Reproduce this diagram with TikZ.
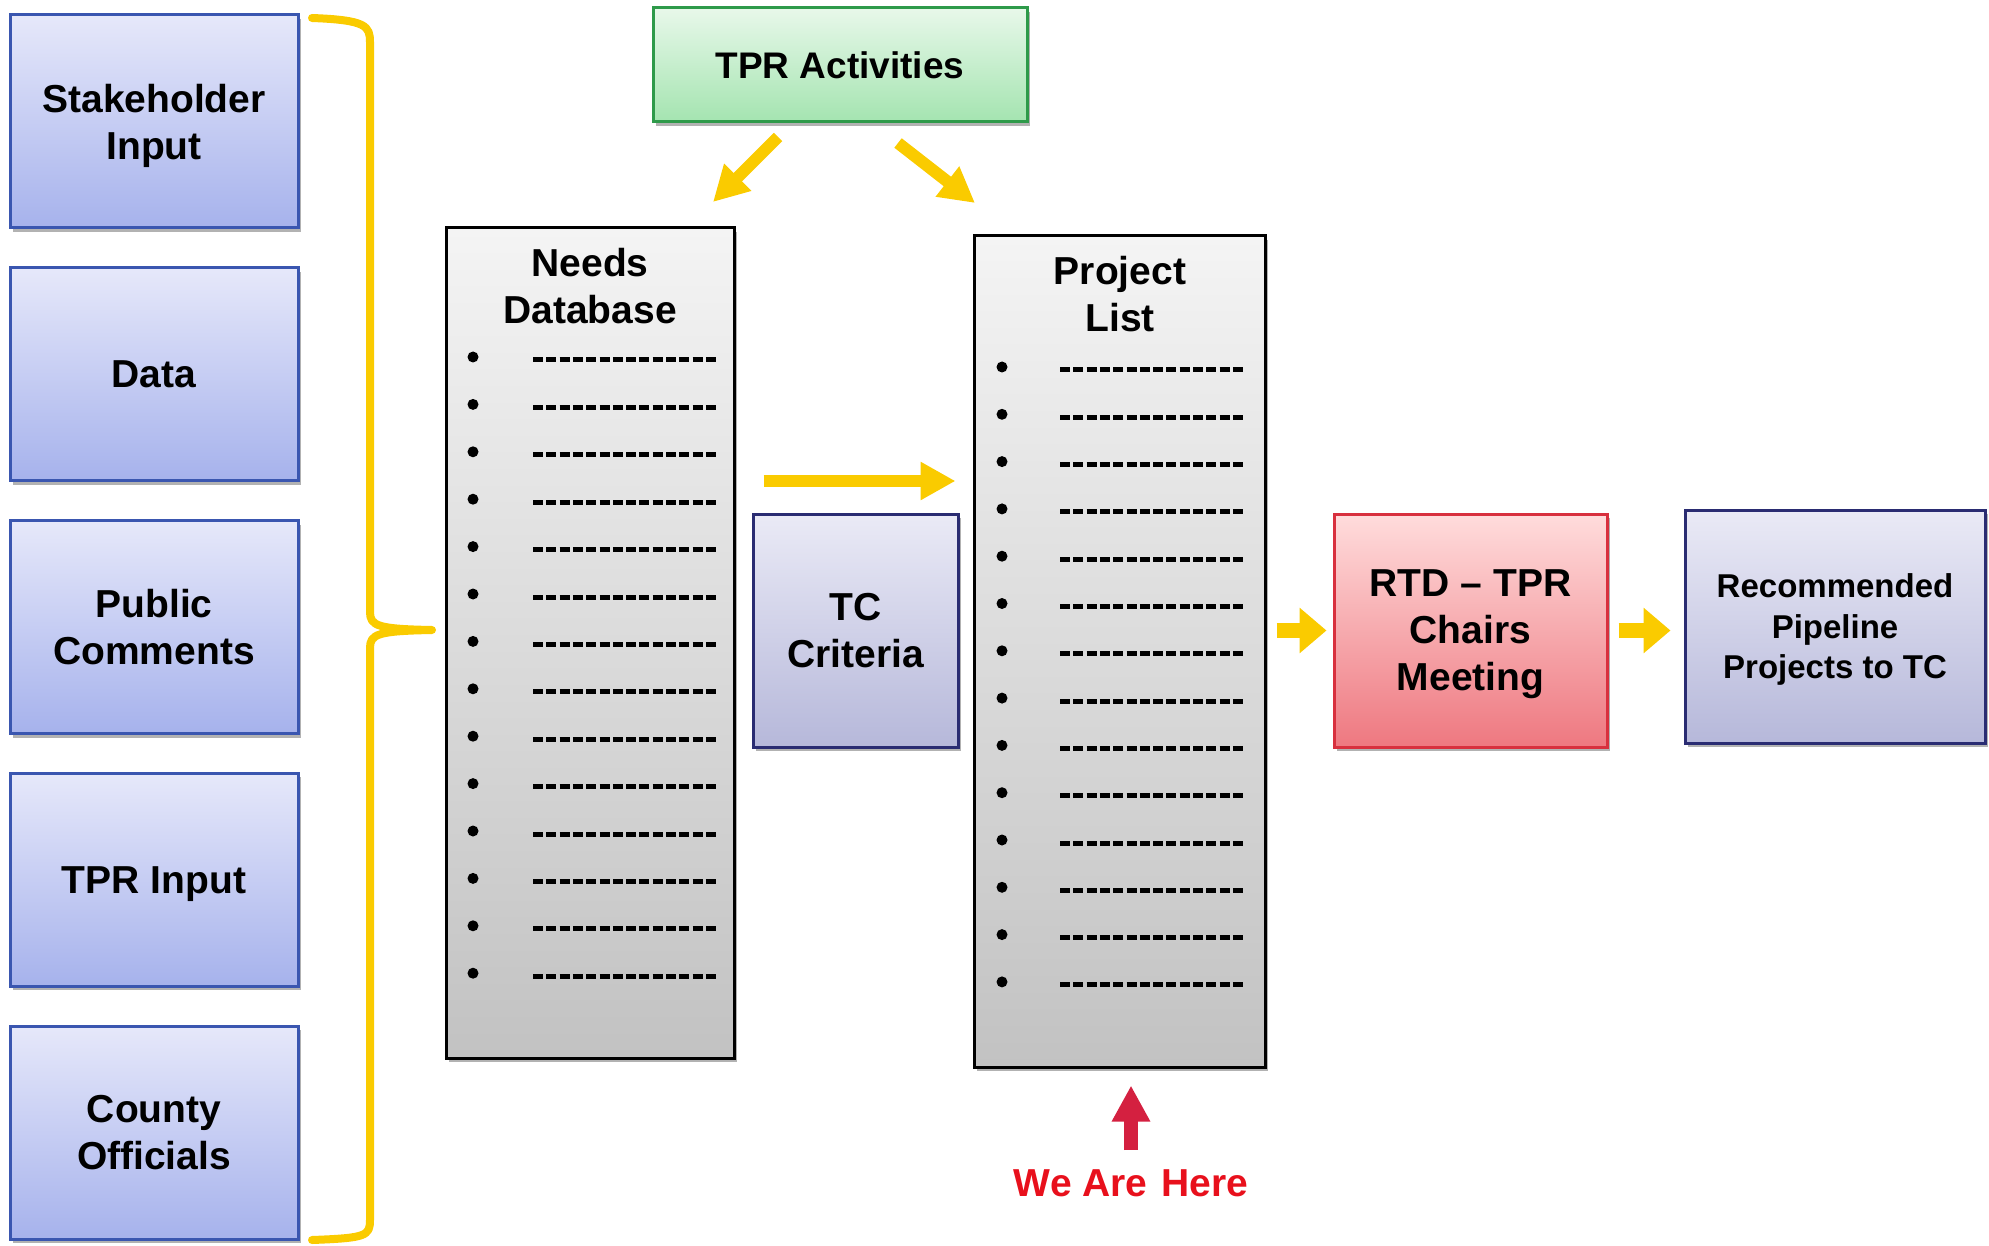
\documentclass[tikz,border=0pt]{standalone}
\usepackage{fontspec}
\setmainfont{Liberation Sans}
\usetikzlibrary{arrows.meta,shadows}

\definecolor{inblue}{HTML}{3A56B0}
\definecolor{intop}{HTML}{E6E8FA}
\definecolor{inbot}{HTML}{A6B2EC}
\definecolor{tprgreen}{HTML}{2E9A4A}
\definecolor{tprtop}{HTML}{E8F8EA}
\definecolor{tprbot}{HTML}{A4E4B0}
\definecolor{listtop}{HTML}{F4F4F4}
\definecolor{listbot}{HTML}{C2C2C2}
\definecolor{navy}{HTML}{2A2C72}
\definecolor{tctop}{HTML}{EAEAF6}
\definecolor{tcbot}{HTML}{B6B8DA}
\definecolor{rtdred}{HTML}{D8303E}
\definecolor{rtdtop}{HTML}{FFDCDC}
\definecolor{rtdbot}{HTML}{EE7880}
\definecolor{gold}{HTML}{FACB00}
\definecolor{herered}{HTML}{E8101C}
\definecolor{herearrow}{HTML}{D42040}

\newcommand{\boxfont}{\fontsize{39}{47}\selectfont\bfseries}
\newcommand{\recfont}{\fontsize{33}{40.5}\selectfont\bfseries}

\tikzset{
  shadowed/.style={drop shadow={shadow xshift=3pt,shadow yshift=-4pt,opacity=0.3,fill=black}},
  flowbox/.style={shadowed,line width=3pt,align=center,font=\boxfont,inner sep=0pt,text depth=-2pt},
  inbox/.style={flowbox,draw=inblue,top color=intop,bottom color=inbot,minimum width=288pt,minimum height=213pt},
  tprbox/.style={flowbox,draw=tprgreen,top color=tprtop,bottom color=tprbot,minimum width=374pt,minimum height=114pt,font=\fontsize{37}{44}\selectfont\bfseries},
  listbox/.style={flowbox,draw=black,top color=listtop,bottom color=listbot},
  tcbox/.style={flowbox,draw=navy,top color=tctop,bottom color=tcbot,minimum width=205pt,minimum height=233pt},
  rtdbox/.style={flowbox,draw=rtdred,top color=rtdtop,bottom color=rtdbot,minimum width=273pt,minimum height=233pt},
  recbox/.style={flowbox,draw=navy,top color=tctop,bottom color=tcbot,minimum width=300pt,minimum height=233pt,font=\recfont},
  yarrow/.style={draw=gold,line width=12pt,-{Triangle[width=36pt,length=35pt]}},
  stubarrow/.style={draw=gold,line width=15pt,-{Triangle[width=44pt,length=27pt]}},
  redarrow/.style={draw=herearrow,line width=14pt,-{Triangle[width=36pt,length=36pt]}},
  bracepath/.style={draw=gold,line width=8pt,line cap=round,line join=round},
  dashline/.style={line width=5pt,dash pattern=on 10pt off 3.3pt}
}

\begin{document}
\begin{tikzpicture}[x=1pt,y=-1pt]
\useasboundingbox (0,0) rectangle (1989,1246);

% inputs on the left
\foreach \nm/\txt [count=\i from 0] in {stake/{Stakeholder\\Input},data/{Data},public/{Public\\Comments},tprin/{TPR Input},county/{County\\Officials}}
  \node[inbox] (\nm) at (154,121.5+252.75*\i) {\txt};

% bracket
\draw[bracepath] (312,18) .. controls (366,20) and (370,26) .. (370,42) -- (370,612)
  .. controls (370,626) and (378,629) .. (432,630)
  .. controls (378,631) and (370,634) .. (370,648) -- (370,1220)
  .. controls (370,1236) and (366,1238) .. (312,1240);

\node[tprbox,text depth=0pt] (tpr) at (840,65) {TPR Activities};

% lists
\node[listbox,minimum width=288pt,minimum height=830pt] (needs) at (590,643) {};
\node[font=\boxfont,align=center] (ndtitle) at (590,286.5) {Needs\\Database};
\node[listbox,minimum width=291pt,minimum height=831pt] (project) at (1119.5,651.5) {};
\node[font=\boxfont,align=center] (pltitle) at (1120,294.5) {Project\\List};
\foreach \i in {0,...,13} {
  \fill (473,357+47.4*\i) circle (5.5);
  \draw[dashline] (533,360+47.4*\i) -- (716,360+47.4*\i);
  \fill (1002,367+47.3*\i) circle (5.5);
  \draw[dashline] (1060,370+47.3*\i) -- (1243,370+47.3*\i);
}

\node[tcbox] (tc) at (855.5,630.5) {TC\\Criteria};
\node[rtdbox] (rtd) at (1470.5,630.5) {RTD – TPR\\Chairs\\Meeting};
\node[recbox] (rec) at (1835,626.5) {Recommended\\Pipeline\\Projects to TC};

% arrows
\coordinate (tprl) at (778,137);
\coordinate (needsin) at (713,202);
\coordinate (tprr) at (898,143);
\coordinate (projin) at (975,203);
\coordinate (flow) at (0,481);
\draw[yarrow] (tprl) -- (needsin);
\draw[yarrow] (tprr) -- (projin);
\draw[yarrow,shorten <=28pt,shorten >=17pt] (needs.east |- flow) -- (project.west |- flow);
\draw[stubarrow,shorten <=10pt,shorten >=6pt] (project.east |- rtd.west) -- (rtd.west);
\draw[stubarrow,shorten <=10pt,shorten >=13pt] (rtd.east) -- (rtd.east -| rec.west);

\node[font=\fontsize{39}{47}\selectfont\bfseries,text=herered,inner sep=0pt] (here) at (1131,1183) {We Are\kern3pt{} Here};
\draw[redarrow,shorten <=19pt,shorten >=17pt] (here.north) -- (here.north |- project.south);
\end{tikzpicture}
\end{document}
